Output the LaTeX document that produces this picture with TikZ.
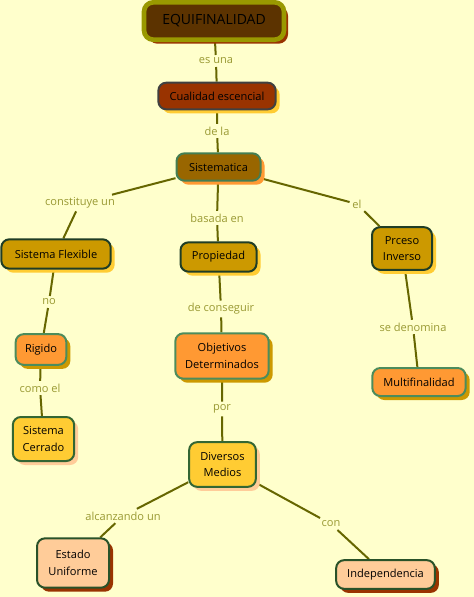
\documentclass[tikz,border=0pt]{standalone}
\usepackage{fontspec}
\setmainfont{Open Sans}
\usetikzlibrary{shadows}
\usepackage{xcolor}

\definecolor{fondo}{HTML}{FFFFCC}
\definecolor{linea}{HTML}{666600}
\definecolor{etiqueta}{HTML}{999933}
\definecolor{marron}{HTML}{5C3300}
\definecolor{oxido}{HTML}{993300}
\definecolor{ocre}{HTML}{996600}
\definecolor{dorado}{HTML}{CC9900}
\definecolor{naranja}{HTML}{FF9933}
\definecolor{amarillo}{HTML}{FFCC33}
\definecolor{durazno}{HTML}{FFCC99}
\definecolor{oliva}{HTML}{999900}
\definecolor{verdeosc}{HTML}{1F3D26}
\definecolor{verdemar}{HTML}{4C8C5C}
\definecolor{verde}{HTML}{336633}

\pgfdeclarelayer{fondocapa}
\pgfdeclarelayer{lineas}
\pgfsetlayers{fondocapa,lineas,main}

\begin{document}
\begin{tikzpicture}[
    x=0.75pt, y=-0.75pt,
    % Estilo base de los conceptos
    concepto/.style={rectangle, rounded corners=6pt, line width=1.5pt, align=center, text=black, inner sep=2pt, font=\fontsize{8.3}{12.5}\selectfont},
    sombra/.style={drop shadow={shadow xshift=3pt, shadow yshift=-3pt, fill=#1, opacity=1}},
    % Familias de colores
    raiz/.style={concepto, fill=marron, draw=oliva, line width=3.5pt, rounded corners=7pt, sombra=oxido, text=black, font=\fontsize{10.5}{12}\selectfont},
    oscuro/.style={concepto, fill=oxido, draw=black!75, sombra=amarillo},
    ocreo/.style={concepto, fill=ocre, draw=verdemar!90!black, sombra=naranja},
    oro/.style={concepto, fill=dorado, draw=verdeosc, sombra=amarillo},
    naranjo/.style={concepto, fill=naranja, draw=verdemar, sombra=dorado},
    amarillo/.style={concepto, fill=amarillo, draw=verde, sombra=durazno},
    melocoton/.style={concepto, fill=durazno, draw=verde!80!black, sombra=oxido},
    % Frases de enlace y lineas
    frase/.style={text=etiqueta, inner sep=2pt, font=\fontsize{8.3}{10}\selectfont},
    enlace/.style={draw=linea, line width=1.5pt}
]

\useasboundingbox (0,0) rectangle (474,597);
\begin{pgfonlayer}{fondocapa}
  \fill[fondo] (0,0) rectangle (474,597);
\end{pgfonlayer}

% Conceptos
\node (equi) [raiz, minimum width=105pt, minimum height=28pt] at (214,21) {EQUIFINALIDAD};
\node (cual) [oscuro, minimum width=88pt, minimum height=20pt] at (217,96) {Cualidad escencial};
\node (sist) [ocreo, minimum width=63pt, minimum height=20.5pt] at (218.5,167) {Sistematica};
\node (flex) [oro, minimum width=82pt, minimum height=22pt] at (56,254) {Sistema Flexible};
\node (prop) [oro, minimum width=57pt, minimum height=22pt] at (218.5,257) {Propiedad};
\node (prceso) [oro, minimum width=45pt, minimum height=32pt] at (402,248.5) {Prceso\\Inverso};
\node (rigido) [naranjo, minimum width=38pt, minimum height=23pt] at (41,349.5) {Rigido};
\node (objet) [naranjo, minimum width=70pt, minimum height=34pt] at (222,356) {Objetivos\\Determinados};
\node (multi) [naranjo, minimum width=70pt, minimum height=21pt] at (419,382) {Multifinalidad};
\node (cerrado) [amarillo, minimum width=46pt, minimum height=33pt] at (43.5,439) {Sistema\\Cerrado};
\node (diversos) [amarillo, minimum width=50pt, minimum height=33.5pt] at (222.5,464.5) {Diversos\\Medios};
\node (estado) [melocoton, minimum width=54pt, minimum height=37pt] at (73,563) {Estado\\Uniforme};
\node (indep) [melocoton, minimum width=74pt, minimum height=21.5pt] at (385.5,574.5) {Independencia};

% Frases de enlace
\node (esuna) [frase] at (216,61) {es una};
\node (dela) [frase] at (217,131) {de la};
\node (constituye) [frase] at (80,203) {constituye un};
\node (basada) [frase] at (217,218) {basada en};
\node (el) [frase] at (357,204) {el};
\node (no) [frase] at (49,302) {no};
\node (conseguir) [frase] at (221,309) {de conseguir};
\node (denomina) [frase] at (413,327) {se denomina};
\node (comoel) [frase] at (40,388) {como el};
\node (por) [frase] at (222,409) {por};
\node (alcanzando) [frase] at (123,516) {alcanzando un};
\node (con) [frase] at (331,524) {con};

% Conexiones
\begin{pgfonlayer}{lineas}
\draw [enlace] (equi) -- (esuna) (esuna) -- (cual);
\draw [enlace] (cual) -- (dela) (dela) -- (sist);
\draw [enlace] (sist) -- (constituye) (constituye) -- (flex);
\draw [enlace] (sist) -- (basada) (basada) -- (prop);
\draw [enlace] (sist) -- (el) (el) -- (prceso);
\draw [enlace] (flex) -- (no) (no) -- (rigido);
\draw [enlace] (rigido) -- (comoel) (comoel) -- (cerrado);
\draw [enlace] (prop) -- (conseguir) (conseguir) -- (objet);
\draw [enlace] (prceso) -- (denomina) (denomina) -- (multi);
\draw [enlace] (objet) -- (por) (por) -- (diversos);
\draw [enlace] (diversos) -- (alcanzando) (alcanzando) -- (estado);
\draw [enlace] (diversos) -- (con) (con) -- (indep);
\end{pgfonlayer}

\end{tikzpicture}
\end{document}
